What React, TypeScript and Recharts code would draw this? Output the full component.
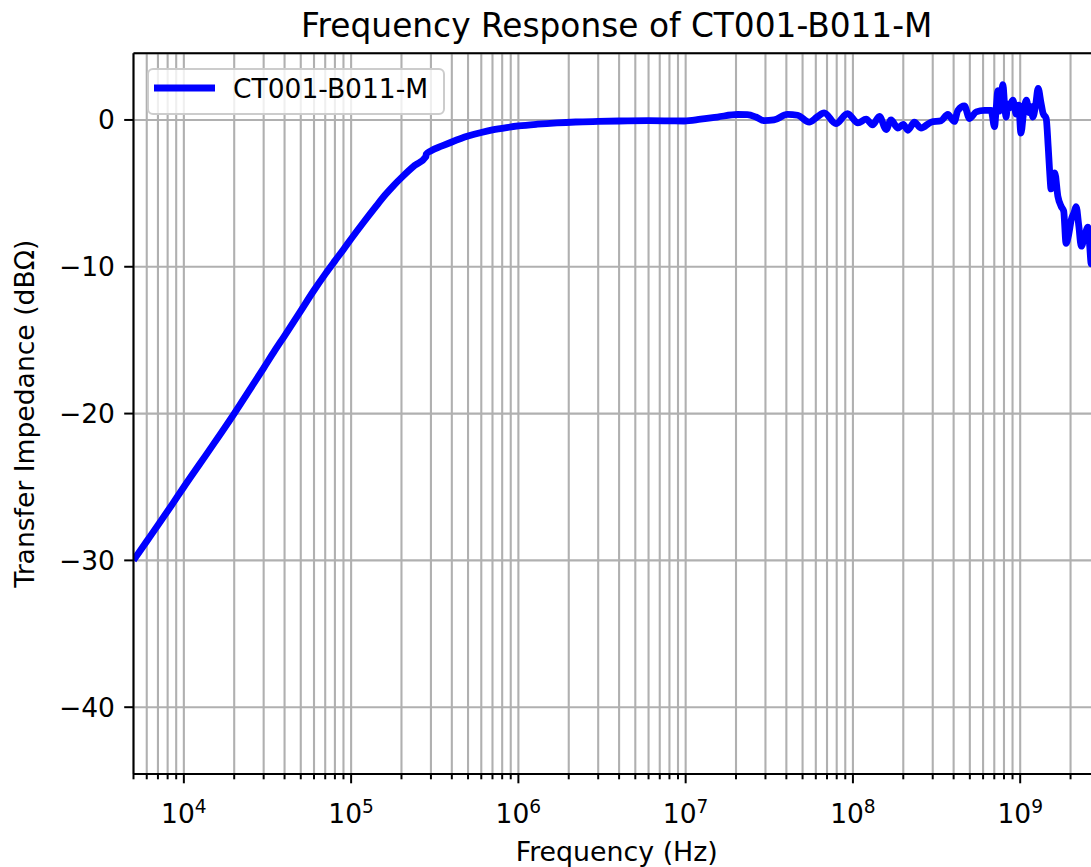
import React from 'react';
import { LineChart, Line, XAxis, YAxis, CartesianGrid, Legend, ReferenceLine } from 'recharts';

const FONT = '"DejaVu Sans", Verdana, sans-serif';

const TITLE = 'Frequency Response of CT001-B011-M';
const SERIES_NAME = 'CT001-B011-M';
const X_LABEL = 'Frequency (Hz)';
const Y_LABEL = 'Transfer Impedance (dBΩ)';

const FREQ_HZ = [
  5000, 6000, 7000, 8500, 1e4, 1.25e4, 1.5e4, 2e4, 2.5e4, 3e4, 3.5e4, 4e4, 5e4, 6e4, 7e4, 8e4, 9e4,
  1e5, 1.2e5, 1.4e5, 1.6e5, 1.8e5, 2e5, 2.4e5, 2.8e5, 2.81e5, 3e5, 3.5e5, 4e5, 5e5, 6e5, 7e5, 8.5e5,
  1e6, 1.3e6, 1.7e6, 2.2e6, 3e6, 4e6, 6e6, 8e6, 9.8e6,
  1.23e7, 1.55e7, 2.04e7, 2.34e7, 2.63e7, 2.94e7, 3.37e7, 4.06e7, 4.67e7, 5.48e7, 6.1e7, 6.73e7, 7.91e7, 9.29e7,
  1.07e8, 1.2e8, 1.31e8, 1.44e8, 1.58e8, 1.69e8, 1.85e8, 2.0e8, 2.13e8, 2.33e8, 2.55e8, 2.93e8, 3.37e8, 3.69e8,
  4.04e8, 4.24e8, 4.64e8, 4.98e8, 5.46e8, 6.11e8, 6.7e8, 7.02e8, 7.2e8, 7.35e8, 7.5e8, 7.7e8, 7.88e8, 8.05e8,
  8.24e8, 8.4e8, 8.59e8, 8.8e8, 9.04e8, 9.25e8, 9.46e8, 9.8e8,
  1.01e9, 1.05e9, 1.09e9, 1.13e9, 1.16e9, 1.19e9, 1.24e9, 1.28e9, 1.33e9, 1.37e9, 1.43e9, 1.47e9, 1.5e9,
  1.53e9, 1.57e9, 1.61e9, 1.68e9, 1.76e9, 1.82e9, 1.88e9, 1.95e9, 2.02e9, 2.1e9, 2.16e9, 2.24e9, 2.32e9,
  2.43e9, 2.54e9, 2.6e9, 2.66e9, 2.8e9, 2.95e9,
];

const IMPEDANCE_DB = [
  -30.0, -28.7, -27.6, -26.2, -25.0, -23.4, -22.1, -20.0, -18.3, -16.9, -15.7, -14.7, -13.0, -11.6, -10.5, -9.6, -8.82,
  -8.1, -6.9, -5.92, -5.1, -4.45, -3.93, -3.1, -2.5, -2.33, -2.1, -1.77, -1.5, -1.1, -0.85, -0.68, -0.52,
  -0.41, -0.29, -0.2, -0.14, -0.1, -0.07, -0.05, -0.06, -0.07,
  0.05, 0.2, 0.37, 0.36, 0.2, -0.05, 0.0, 0.38, 0.32, -0.15, 0.2, 0.48, -0.25, 0.43,
  -0.2, 0.05, -0.34, 0.25, -0.65, 0.0, -0.55, -0.3, -0.7, -0.15, -0.55, -0.15, -0.05, 0.38,
  -0.1, 0.65, 0.95, 0.1, 0.55, 0.65, 0.65, -0.45, 0.9, 2.0, 0.6, 1.6, 2.4, 1.2,
  0.2, 1.1, 0.8, 1.1, 1.35, 0.9, 0.4, 1.0,
  -0.9, 0.6, 1.35, 0.5, 0.9, 0.2, 1.1, 2.15, 1.2, 0.45, 0.1, -1.8, -3.5,
  -4.7, -4.0, -3.6, -5.2, -5.9, -6.2, -8.4, -7.8, -6.8, -6.3, -5.9, -7.2, -8.6,
  -7.9, -7.3, -8.5, -9.8, -9.4, -10.3,
];

const X_DOMAIN: [number, number] = [5000, 3e9];
const Y_DOMAIN: [number, number] = [-44.55, 4.54];
const Y_TICKS = [-40, -30, -20, -10, 0];
const X_DECADES = [1e3, 1e4, 1e5, 1e6, 1e7, 1e8, 1e9];
const X_MULTIPLIERS = [1, 2, 3, 4, 5, 6, 7, 8, 9];

const X_TICKS = X_DECADES.flatMap((d) => X_MULTIPLIERS.map((m) => m * d)).filter(
  (v) => v >= X_DOMAIN[0] && v <= X_DOMAIN[1]
);

const data = FREQ_HZ.map((f, i) => ({ f, db: IMPEDANCE_DB[i] }));

// layout
const CHART_W = 1120;
const CHART_H = 867;
const PLOT_LEFT = 133.5;
const PLOT_RIGHT = 1100;
const PLOT_TOP = 53.3;
const PLOT_BOTTOM = 774;
const Y_AXIS_W = 60;
const X_AXIS_H = 50;

const GRID = '#b0b0b0';
const LINE_BLUE = '#0000ff';

const XTick = (props: any) => {
  const { x, y, payload } = props;
  const v = payload.value as number;
  const e = Math.log10(v);
  const isMajor = Math.abs(e - Math.round(e)) < 1e-9;
  return (
    <g>
      <line x1={x} x2={x} y1={y} y2={y + (isMajor ? 9.3 : 5.3)} stroke="#000" strokeWidth={2} />
      {isMajor && (
        <text x={x} y={y + 49} textAnchor="middle" fontFamily={FONT} fontSize={26.5} fill="#000">
          <tspan>10</tspan>
          <tspan dy={-9.7} fontSize={18.6}>
            {String(Math.round(e))}
          </tspan>
        </text>
      )}
    </g>
  );
};

const YTick = (props: any) => {
  const { x, y, payload } = props;
  const v = payload.value as number;
  const label = v < 0 ? `\u2212${Math.abs(v)}` : `${v}`;
  return (
    <g>
      <line x1={x - 9.3} x2={x} y1={y} y2={y} stroke="#000" strokeWidth={2} />
      <text x={x - 18.6} y={y + 9.5} textAnchor="end" fontFamily={FONT} fontSize={26.5} fill="#000">
        {label}
      </text>
    </g>
  );
};

const LegendBox = (props: any) => {
  const item = props.payload && props.payload[0];
  if (!item) return null;
  return (
    <div
      style={{
        width: 298,
        height: 47,
        boxSizing: 'border-box',
        border: '2px solid #cccccc',
        borderRadius: 6,
        background: 'rgba(255,255,255,0.8)',
        position: 'relative',
      }}
    >
      <svg width={294} height={43} style={{ position: 'absolute', left: 0, top: 0 }}>
        <line x1={5} x2={66} y1={18} y2={18} stroke={item.color} strokeWidth={6.8} />
        <text x={84} y={27.5} fontFamily={FONT} fontSize={26.5} fill="#000">
          {item.value}
        </text>
      </svg>
    </div>
  );
};

export default function App() {
  const plotCx = (PLOT_LEFT + PLOT_RIGHT) / 2;
  const plotCy = (PLOT_TOP + PLOT_BOTTOM) / 2;
  return (
    <div
      style={{
        position: 'fixed',
        left: 0,
        top: 0,
        width: 1091,
        height: 867,
        overflow: 'hidden',
        background: '#fff',
      }}
    >
      <LineChart
        width={CHART_W}
        height={CHART_H}
        data={data}
        margin={{
          top: PLOT_TOP,
          left: PLOT_LEFT - Y_AXIS_W,
          right: CHART_W - PLOT_RIGHT,
          bottom: CHART_H - PLOT_BOTTOM - X_AXIS_H,
        }}
      >
        <CartesianGrid stroke={GRID} strokeWidth={2.1} horizontal vertical />
        <XAxis
          dataKey="f"
          type="number"
          scale="log"
          domain={X_DOMAIN}
          allowDataOverflow
          ticks={X_TICKS}
          interval={0}
          height={X_AXIS_H}
          tickSize={0}
          tickMargin={0}
          tickLine={false}
          tick={<XTick />}
          axisLine={{ stroke: '#000', strokeWidth: 2 }}
        />
        <YAxis
          type="number"
          domain={Y_DOMAIN}
          allowDataOverflow
          ticks={Y_TICKS}
          interval={0}
          width={Y_AXIS_W}
          tickSize={0}
          tickMargin={0}
          tickLine={false}
          tick={<YTick />}
          axisLine={{ stroke: '#000', strokeWidth: 2 }}
        />
        <ReferenceLine y={Y_DOMAIN[1]} stroke="#000" strokeWidth={2} ifOverflow="extendDomain" />
        <ReferenceLine x={X_DOMAIN[1]} stroke="#000" strokeWidth={2} />
        <Legend
          layout="horizontal"
          verticalAlign="middle"
          align="center"
          content={<LegendBox />}
          wrapperStyle={{ left: 147, top: 68, width: 298, height: 47, right: 'auto', bottom: 'auto' }}
        />
        <Line
          name={SERIES_NAME}
          dataKey="db"
          type="monotone"
          stroke={LINE_BLUE}
          strokeWidth={6.8}
          strokeLinejoin="round"
          dot={false}
          activeDot={false}
          isAnimationActive={false}
        />
      </LineChart>
      <svg
        width={1091}
        height={867}
        style={{ position: 'absolute', left: 0, top: 0, pointerEvents: 'none' }}
      >
        <text x={plotCx} y={36.7} textAnchor="middle" fontFamily={FONT} fontSize={32.8} fill="#000">
          {TITLE}
        </text>
        <text x={plotCx} y={861} textAnchor="middle" fontFamily={FONT} fontSize={26.8} fill="#000">
          {X_LABEL}
        </text>
        <text
          x={34.5}
          y={plotCy}
          textAnchor="middle"
          fontFamily={FONT}
          fontSize={26.6}
          fill="#000"
          transform={`rotate(-90 34.5 ${plotCy})`}
        >
          {Y_LABEL}
        </text>
      </svg>
    </div>
  );
}
